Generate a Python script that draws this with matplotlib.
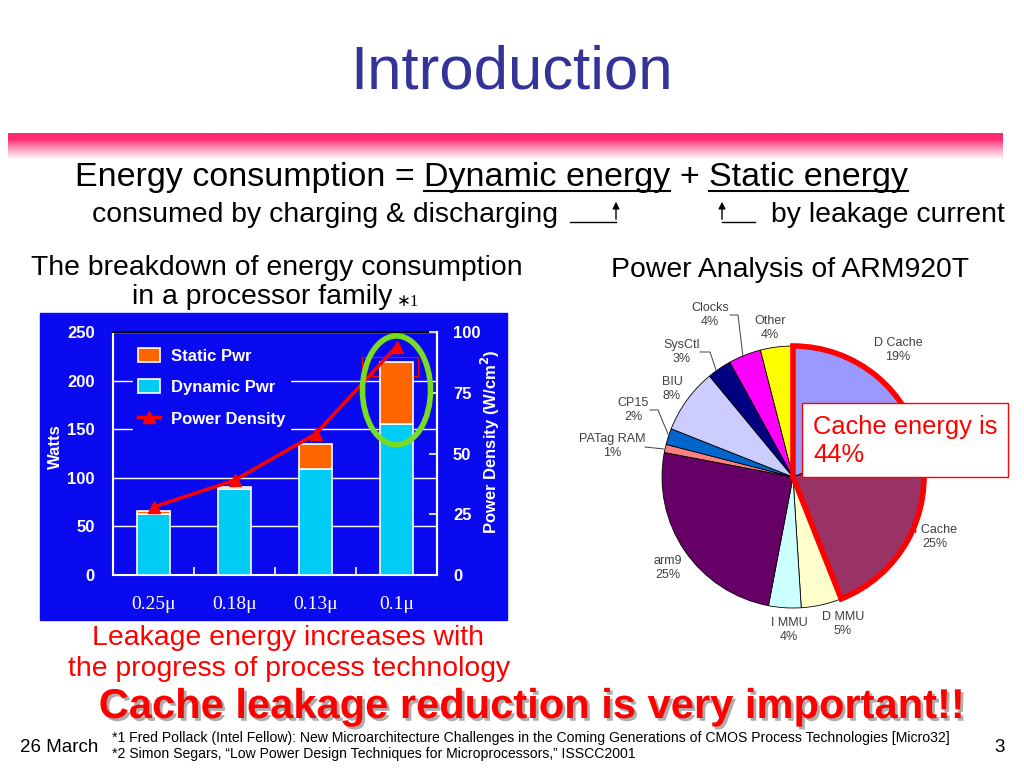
import numpy as np
import matplotlib.pyplot as plt
import matplotlib.patheffects as pe
from matplotlib.patches import Rectangle, Ellipse, Wedge
from matplotlib.colors import LinearSegmentedColormap

plt.rcParams['font.family'] = ['Liberation Sans', 'DejaVu Sans']

# bar chart: breakdown of energy in a processor family (*1)
nodes = ['0.25μ', '0.18μ', '0.13μ', '0.1μ']
dynamic_pwr = [63, 88, 109, 155]      # Watts
static_pwr = [3, 3, 26, 64]           # Watts
power_density = [28, 39, 58, 94]      # W/cm2
watts_ticks = [0, 50, 100, 150, 200, 250]
density_ticks = [0, 25, 50, 75, 100]

# pie chart: power analysis of ARM920T (*2)
parts = ['D Cache', 'I Cache', 'D MMU', 'I MMU', 'arm9', 'PATag RAM',
         'CP15', 'BIU', 'SysCtl', 'Clocks', 'Other']
shares = [19, 25, 5, 4, 25, 1, 2, 8, 3, 4, 4]
part_colors = ['#9999ff', '#993366', '#ffffcc', '#ccffff', '#660066', '#ff8080',
               '#0066cc', '#ccccff', '#000080', '#ff00ff', '#ffff00']
# label placement, pixels from the pie centre
label_offsets = [(105, -127), (142, 60), (50, 147), (-4, 153), (-125, 91),
                 (-181, -31), (-160, -67), (-121, -88), (-111, -125),
                 (-83, -162), (-23, -149)]

BLUE = '#0a0af0'
CYAN = '#00ccf5'
ORANGE = '#ff6600'
RED = '#ff0000'
BODY = 20.4   # size of the body text lines

fig = plt.figure(figsize=(10.24, 7.68), dpi=100)

# background layer, pixel coordinates
bg = fig.add_axes([0, 0, 1, 1], zorder=0)
t = np.linspace(0, 1, 80).reshape(-1, 1)
grad = np.clip((t - 0.25) / 0.75, 0, 1) ** 0.8
pink = LinearSegmentedColormap.from_list('pink', ['#ff2a72', '#ffffff'])
bg.imshow(grad, cmap=pink, extent=(8, 1003, 160, 133), aspect='auto')
bg.add_patch(Rectangle((40, 313), 467, 307, color=BLUE))
bg.set_xlim(0, 1024)
bg.set_ylim(768, 0)
bg.axis('off')

# ---- bar chart ----
ax = fig.add_axes([113 / 1024, 1 - 575 / 768, 324 / 1024, 243 / 768], zorder=2)
ax.set_facecolor(BLUE)
x = np.arange(len(nodes))
ax.add_patch(Rectangle((2.57, 205), 0.70, 19, fill=False, edgecolor=RED, lw=0.8, zorder=1))
dyn = ax.bar(x, dynamic_pwr, 0.41, color=CYAN, edgecolor='white', lw=1.2, zorder=3)
sta = ax.bar(x, static_pwr, 0.41, bottom=dynamic_pwr, color=ORANGE, edgecolor='white', lw=1.2, zorder=3)
ax.set_xlim(-0.5, 3.5)
ax.set_ylim(0, 250)
ax.set_yticks(watts_ticks)
ax.yaxis.grid(True, color='white', lw=1)
ax.set_axisbelow(True)
ax.set_xticks(x, nodes)
ax.set_xticks(x[:-1] + 0.5, minor=True)
ax.tick_params(axis='x', which='major', length=0, pad=15, labelcolor='white', labelsize=14)
ax.tick_params(axis='x', which='minor', direction='in', length=6, color='white', width=1.2)
ax.tick_params(axis='y', length=0, pad=13, labelcolor='white', labelsize=12)
for lb in ax.get_xticklabels():
    lb.set_fontfamily('Liberation Serif')
for lb in ax.get_yticklabels():
    lb.set_fontweight('bold')
for side in ['left', 'right', 'bottom']:
    ax.spines[side].set_color('white')
    ax.spines[side].set_linewidth(1.5)
ax.spines['top'].set_color('black')
ax.spines['top'].set_linewidth(1.5)

ax2 = ax.twinx()
pd_line, = ax2.plot(x, power_density, color=RED, lw=2.5, marker='^', ms=9, zorder=4)
ax2.set_ylim(0, 100)
ax2.set_yticks(density_ticks)
ax2.tick_params(axis='y', direction='in', length=6, width=1.2, color='white',
                labelcolor='white', labelsize=12, pad=11.5)
for lb in ax2.get_yticklabels():
    lb.set_fontweight('bold')
for side in ['left', 'top', 'bottom']:
    ax2.spines[side].set_visible(False)
ax2.spines['right'].set_color('white')
ax2.spines['right'].set_linewidth(1.5)
ax2.add_patch(Ellipse((3, 190), 0.84, 112, transform=ax.transData, fill=False,
                      edgecolor='#77dd22', lw=4, zorder=6, clip_on=False))
leg = ax2.legend([sta, dyn, pd_line], ['Static Pwr', 'Dynamic Pwr', 'Power Density'],
                 loc='upper left', bbox_to_anchor=(0.062, 0.955), frameon=True,
                 facecolor=BLUE, edgecolor=BLUE, framealpha=1, fancybox=False,
                 prop=dict(weight='bold', size=12), labelcolor='white',
                 handlelength=1.3, handleheight=0.9, labelspacing=0.95,
                 borderpad=0.3, handletextpad=0.65, borderaxespad=0)

# ---- pie chart ----
pax = fig.add_axes([643 / 1024, 1 - 627 / 768, 300 / 1024, 300 / 768], zorder=2)
pax.pie(shares, colors=part_colors, startangle=90, counterclock=False, radius=131,
        wedgeprops=dict(edgecolor='black', linewidth=0.6))
pax.set_xlim(-150, 150)
pax.set_ylim(-150, 150)
cache_share = shares[0] + shares[1]
pax.add_patch(Wedge((0, 0), 131, 90 - cache_share * 3.6, 90, fill=False,
                    edgecolor=RED, lw=4, joinstyle='miter'))

# ---- text layer, pixel coordinates ----
top = fig.add_axes([0, 0, 1, 1], zorder=5)
top.set_xlim(0, 1024)
top.set_ylim(768, 0)
top.axis('off')
renderer = fig.canvas.get_renderer()


def text_width(s, **kw):
    tx = top.text(0, 0, s, **kw)
    w = tx.get_window_extent(renderer).width
    tx.remove()
    return w


top.text(512, 73, 'Introduction', ha='center', va='center', size=44.5, color='#333399')

# equation line with underlined terms
eq = [('Energy consumption =', False), ('Dynamic energy', True), ('+', False), ('Static energy', True)]
EQ = 24.5
gap = text_width('a a', size=EQ) - text_width('aa', size=EQ)
xx = 75
for s, under in eq:
    top.text(xx, 186, s, ha='left', va='baseline', size=EQ)
    w = text_width(s, size=EQ)
    if under:
        top.plot([xx, xx + w], [191, 191], color='black', lw=1.5)
    xx += w + gap

top.text(92, 222, 'consumed by charging & discharging', ha='left', va='baseline', size=BODY)
top.text(1005, 222, 'by leakage current', ha='right', va='baseline', size=BODY)
top.plot([570, 616], [222, 222], color='black', lw=1)
top.annotate('', xy=(616, 199), xytext=(616, 222),
             arrowprops=dict(arrowstyle='-|>', color='black', lw=1, mutation_scale=10))
top.plot([722, 755], [222, 222], color='black', lw=1)
top.annotate('', xy=(722, 199), xytext=(722, 222),
             arrowprops=dict(arrowstyle='-|>', color='black', lw=1, mutation_scale=10))

top.text(277, 268, 'The breakdown of energy consumption', ha='center', va='center', size=BODY)
top.text(262, 297, 'in a processor family', ha='center', va='center', size=BODY)
top.text(397, 302, '∗1', ha='left', va='center', size=12,
         family=['Liberation Serif', 'DejaVu Sans'])

top.text(55, 447, 'Watts', rotation=90, ha='center', va='center', size=12,
         weight='bold', color='white')
top.text(490, 442, 'Power Density (W/cm$^\\mathbf{2}$)', rotation=90, ha='center',
         va='center', size=12, weight='bold', color='white')

top.text(790, 270, 'Power Analysis of ARM920T', ha='center', va='center', size=BODY)

cx, cy = 793, 477
for name, share, (dx, dy) in zip(parts, shares, label_offsets):
    top.text(cx + dx, cy + dy, f'{name}\n{share}%', ha='center', va='center',
             size=9, color='#404040', linespacing=1.3)
leaders = [([730, 738, 743], [315, 315, 357]),
           ([700, 710, 716], [352, 352, 370]),
           ([650, 658, 668], [410, 410, 434]),
           ([645, 664], [447, 449])]
for lx, ly in leaders:
    top.plot(lx, ly, color='#404040', lw=0.7)

top.add_patch(Rectangle((802, 403), 206, 74, facecolor='white', edgecolor=RED, lw=1))
top.text(813, 441, 'Cache energy is\n44%', ha='left', va='center', size=18.4,
         color=RED, linespacing=1.2)

top.text(288, 638, 'Leakage energy increases with', ha='center', va='center', size=BODY, color=RED)
top.text(289, 669, 'the progress of process technology', ha='center', va='center', size=BODY, color=RED)

top.text(532, 707, 'Cache leakage reduction is very important!!', ha='center', va='center',
         size=30, weight='bold', color=RED,
         path_effects=[pe.SimplePatchShadow(offset=(2, -2), shadow_rgbFace='#999999', alpha=0.8),
                       pe.Normal()])

top.text(112, 738, '*1 Fred Pollack (Intel Fellow): New Microarchitecture Challenges in the Coming '
         'Generations of CMOS Process Technologies [Micro32]', ha='left', va='center', size=10.1)
top.text(112, 754, '*2 Simon Segars, \u201cLow Power Design Techniques for Microprocessors,\u201d ISSCC2001',
         ha='left', va='center', size=10.1)
top.text(20, 748, '26 March', ha='left', va='center', size=13.5)
top.text(1005, 748, '3', ha='right', va='center', size=13.5)

fig.savefig('out.png', dpi=100)
